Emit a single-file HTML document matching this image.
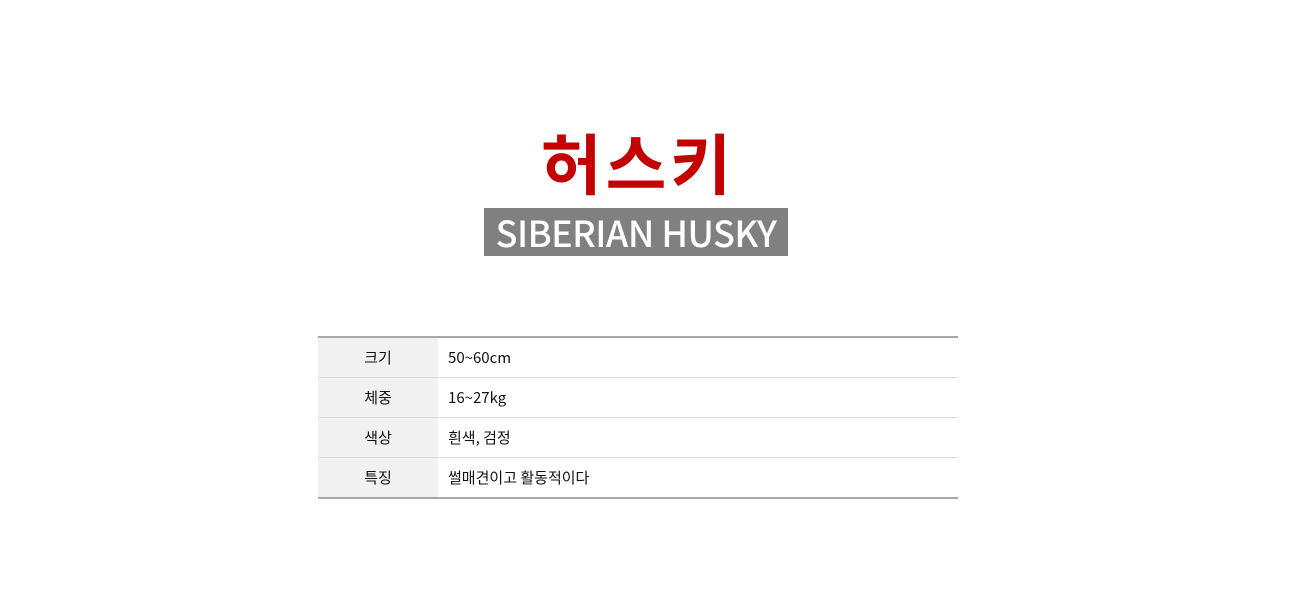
<!DOCTYPE html>
<html><head><meta charset="utf-8"><style>
html,body{margin:0;padding:0;background:#fff;width:1300px;height:590px;overflow:hidden;position:relative}
#title{position:absolute;left:336px;width:600px;top:118px;text-align:center;font:bold 66px "Noto Sans CJK KR","NanumGothic",sans-serif;color:#c40000;line-height:86px;letter-spacing:4px;text-indent:4px}
#sub{position:absolute;left:484px;top:208px;width:304px;height:48px;background:#808080;color:#fff;font:500 36px "Noto Sans CJK KR",sans-serif;text-align:center;line-height:48px;letter-spacing:-0.5px}
table{position:absolute;left:318px;top:336px;width:640px;border-collapse:collapse;border-top:2px solid #a8a8a8;border-bottom:2px solid #a8a8a8;font:15px "Noto Sans CJK KR",sans-serif;color:#111}
td{height:39px;padding:0;border-bottom:1px solid #dcdcdc}
tr:last-child td{border-bottom:none}
td.k{width:120px;background:#f1f1f1;text-align:center}
td.v{padding-left:10px}
</style></head><body>
<div id="title">허스키</div>
<div id="sub">SIBERIAN HUSKY</div>
<table>
<tr><td class="k">크기</td><td class="v">50~60cm</td></tr>
<tr><td class="k">체중</td><td class="v">16~27kg</td></tr>
<tr><td class="k">색상</td><td class="v">흰색, 검정</td></tr>
<tr><td class="k">특징</td><td class="v">썰매견이고 활동적이다</td></tr>
</table>
</body></html>
